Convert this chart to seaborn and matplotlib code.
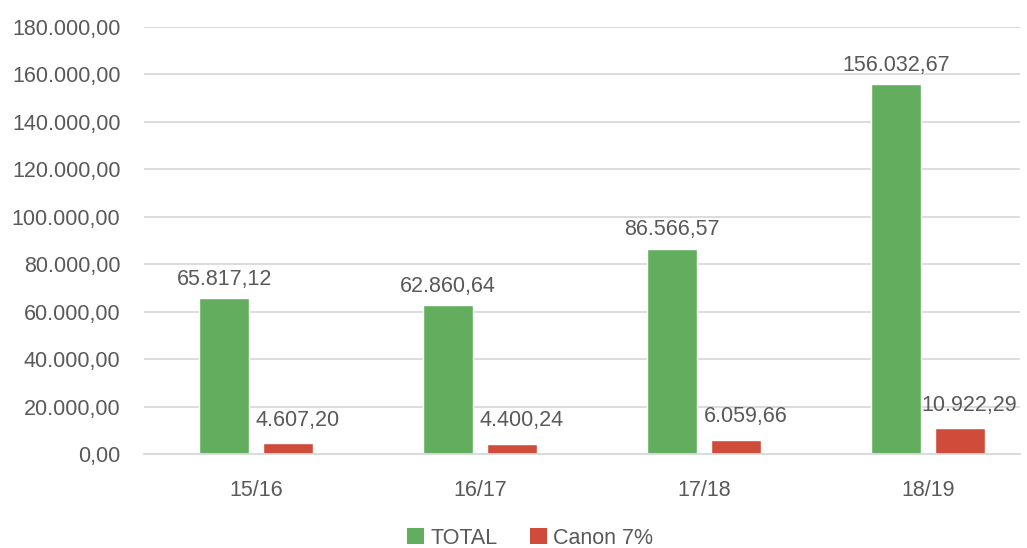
import matplotlib
matplotlib.use("Agg")
import matplotlib.pyplot as plt
import seaborn as sns
import pandas as pd
from matplotlib.ticker import FuncFormatter
from matplotlib.patches import Patch

periods = ["15/16", "16/17", "17/18", "18/19"]
total = [65817.12, 62860.64, 86566.57, 156032.67]
canon = [4607.20, 4400.24, 6059.66, 10922.29]
series_names = ["TOTAL", "Canon 7%"]
colors = ["#63AD5F", "#CF4C3A"]
yticks = [0, 20000, 40000, 60000, 80000, 100000, 120000, 140000, 160000, 180000]

def fmt(v):
    s = f"{v:,.2f}"
    return s.replace(",", "X").replace(".", ",").replace("X", ".")

df = pd.DataFrame({
    "period": periods * 2,
    "value": total + canon,
    "series": [series_names[0]] * 4 + [series_names[1]] * 4,
})

sns.set_theme(style="white")
plt.rcParams["font.family"] = ["Liberation Sans", "DejaVu Sans"]
text_color = "#595959"
grid_color = "#D9D9D9"

fig = plt.figure(figsize=(10.27, 5.48), dpi=100)
ax = fig.add_axes([144 / 1027, 1 - 454 / 548, (1020 - 144) / 1027, (454 - 27) / 548])

sns.barplot(data=df, x="period", y="value", hue="series", palette=colors,
            width=0.567, gap=0.21, ax=ax, legend=False, saturation=1,
            err_kws={"linewidth": 0})

offsets = [(0, 6), (7, 9)]
for cont, (dx, dy) in zip(ax.containers, offsets):
    for b in cont:
        h = b.get_height()
        ax.annotate(fmt(h), (b.get_x() + b.get_width() / 2, h),
                    xytext=(dx, dy), textcoords="offset points",
                    ha="center", va="bottom", fontsize=15.5, color=text_color)

ax.set_ylim(0, 180000)
ax.set_xlim(-0.5, 3.41)
ax.set_yticks(yticks)
ax.yaxis.set_major_formatter(FuncFormatter(lambda v, p: fmt(v)))
ax.yaxis.grid(True, color=grid_color, linewidth=1.3)
ax.set_axisbelow(True)
for side in ["top", "right", "left"]:
    ax.spines[side].set_visible(False)
ax.spines["bottom"].set_color(grid_color)
ax.spines["bottom"].set_linewidth(1.3)
ax.tick_params(axis="y", length=0, pad=17, labelsize=15.5, labelcolor=text_color)
ax.tick_params(axis="x", length=0, pad=19, labelsize=15.5, labelcolor=text_color)
ax.set_xlabel("")
ax.set_ylabel("")

handles = [Patch(facecolor=c, edgecolor="none") for c in colors]
fig.legend(handles, series_names, loc="center", bbox_to_anchor=(530 / 1027, 1 - 538 / 548),
           ncol=2, frameon=False, fontsize=15.5, labelcolor=text_color,
           handlelength=0.8, handleheight=0.8, handletextpad=0.3, columnspacing=1.5)

fig.savefig("out.png", dpi=100)
